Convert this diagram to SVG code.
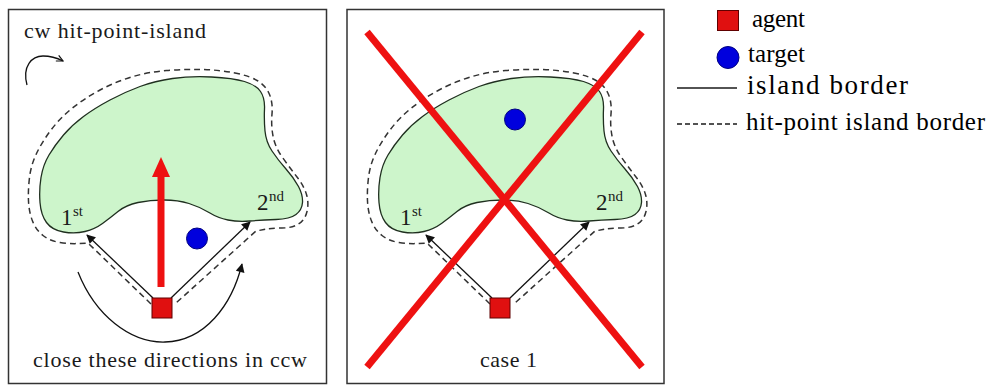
<svg xmlns="http://www.w3.org/2000/svg" xmlns:xlink="http://www.w3.org/1999/xlink" width="988" height="386" viewBox="0 0 988 386">
  <style>
    .frame { fill: #ffffff; stroke: #333333; stroke-width: 1.5; }
    .island { fill: #cdf5cb; stroke: #1f2f1f; stroke-width: 1.3; }
    .hit { fill: none; stroke: #333333; stroke-width: 1.5; stroke-dasharray: 6 4; }
    .agent { fill: #e01010; stroke: #600000; stroke-width: 1; }
    .target { fill: #0000dd; stroke: #000080; stroke-width: 1; }
    .arrow { fill: none; stroke: #111111; stroke-width: 1.3; }
    .red { stroke: #ee1111; stroke-width: 7; fill: none; }
    text { font-family: "Liberation Serif", "Times New Roman", serif; fill: #1a1a1a; }
    .lbl { font-size: 22px; }
    .ord { font-size: 23px; }
    .sup { font-size: 15px; }
    .leg { font-size: 25px; fill: #000000; }
    .leg-wide { font-size: 27px; }
  </style>
  <defs>
    <marker id="head" viewBox="0 0 10 10" refX="9" refY="5" markerWidth="10" markerHeight="9" markerUnits="userSpaceOnUse" orient="auto">
      <path d="M0,0 L10,5 L0,10 Z" fill="#111111"/>
    </marker>
    <marker id="open" viewBox="0 0 10 10" refX="9" refY="5" markerWidth="8" markerHeight="8" markerUnits="userSpaceOnUse" orient="auto">
      <path d="M1,1 L9,5 L1,9" fill="none" stroke="#111111" stroke-width="1.5"/>
    </marker>
    <!-- island outline (solid border) -->
    <path id="island-shape" d="M172.5,78.5 Q190,76 211.5,77 Q233,78 244.5,81.5 Q256,85 260.5,91.5 Q265,98 264.5,109 Q264,120 265,131 Q266,142 272,151 Q278,160 286,169 Q294,178 298.5,186.5 Q303,195 302.5,202.5 Q302,210 296,214.5 Q290,219 276,219.5 Q262,220 250,221 Q238,222 228,220 Q218,218 209,212.5 Q200,207 189,203.5 Q178,200 164,200 Q150,200 138,202.5 Q126,205 118,211.5 Q110,218 102.5,223.5 Q95,229 85,231.5 Q75,234 63.5,232 Q52,230 46.5,222.5 Q41,215 40,202.5 Q39,190 41,177.5 Q43,165 49,155 Q55,145 63.5,135 Q72,125 83.5,116.5 Q95,108 110,100 Q125,92 140,86.5 Q155,81 172.5,78.5 Z"/>
    <!-- hit-point island border (dashed), passing by the agent -->
    <path id="hit-shape" d="M151,304 L88,243 L79,243.5 Q70,244 60,242.5 Q50,241 43,235.5 Q36,230 32.5,221 Q29,212 28.5,201 Q28,190 29.5,177.5 Q31,165 36.5,153.5 Q42,142 51,130 Q60,118 72.5,108 Q85,98 100,90 Q115,82 131.5,77 Q148,72 166.5,70.5 Q185,69 202.5,69.5 Q220,70 235,73 Q250,76 258,81 Q266,86 269.5,94.5 Q273,103 272,114 Q271,125 273,136 Q275,147 282.5,157.5 Q290,168 297,177 Q304,186 306.5,194.5 Q309,203 307,211.5 Q305,220 298.5,224 Q292,228 282,228 Q272,228 264,229.5 L256,231 L176,303"/>
  </defs>

  <!-- left panel: cw hit-point-island -->
  <g id="panel-left">
    <rect class="frame" x="8.5" y="9.5" width="318" height="374"/>
    <text class="lbl" x="24" y="38" textLength="182" lengthAdjust="spacing">cw hit-point-island</text>
    <text class="lbl" x="33" y="367" textLength="274" lengthAdjust="spacing">close these directions in ccw</text>
  </g>
  <g id="island-left">
    <use xlink:href="#island-shape" class="island"/>
    <use xlink:href="#hit-shape" class="hit"/>
    <text class="ord" x="61" y="225">1</text><text class="sup" x="73" y="216">st</text>
    <text class="ord" x="257" y="210">2</text><text class="sup" x="269" y="201">nd</text>
  </g>
  <g id="target-left">
    <circle class="target" cx="197" cy="238.5" r="10.5"/>
  </g>

  <!-- right panel: case 1 -->
  <g id="panel-right">
    <rect class="frame" x="347" y="9.5" width="317" height="374"/>
    <text class="lbl" x="480" y="367" textLength="57" lengthAdjust="spacing">case 1</text>
  </g>
  <g id="island-right" transform="translate(339,0)">
    <use xlink:href="#island-shape" class="island"/>
    <use xlink:href="#hit-shape" class="hit"/>
    <text class="ord" x="61" y="225">1</text><text class="sup" x="73" y="216">st</text>
    <text class="ord" x="257" y="210">2</text><text class="sup" x="269" y="201">nd</text>
  </g>
  <g id="target-right">
    <circle class="target" cx="515" cy="119.5" r="10.5"/>
  </g>

  <!-- connectors -->
  <g id="connectors">
    <!-- cw rotation hint -->
    <path class="arrow" d="M27,85 C22,66 32,56 43,56 C51,56 57,58 63,61" marker-end="url(#open)"/>
    <!-- first and second hit directions, left panel -->
    <line class="arrow" x1="153" y1="298" x2="87" y2="235" marker-end="url(#head)"/>
    <line class="arrow" x1="171" y1="298" x2="250" y2="222" marker-end="url(#head)"/>
    <!-- ccw closing sweep -->
    <path class="arrow" d="M78,272 C95,315 130,343 165,342 C205,341 232,305 242,264" marker-end="url(#head)"/>
    <!-- direction toward the target -->
    <line class="red" x1="161" y1="287" x2="161" y2="175"/>
    <polygon points="152,177 170,177 161,157" fill="#ee1111"/>
    <!-- first and second hit directions, right panel -->
    <line class="arrow" x1="492" y1="298" x2="426" y2="235" marker-end="url(#head)"/>
    <line class="arrow" x1="510" y1="298" x2="589" y2="222" marker-end="url(#head)"/>
    <!-- crossed out -->
    <line class="red" x1="367" y1="32" x2="642" y2="367"/>
    <line class="red" x1="642" y1="32" x2="367" y2="367"/>
  </g>

  <g id="agent-left">
    <rect class="agent" x="152" y="298" width="20" height="20"/>
  </g>
  <g id="agent-right">
    <rect class="agent" x="490" y="298" width="20" height="20"/>
  </g>

  <!-- legend -->
  <g id="legend">
    <rect class="agent" x="717.5" y="10.5" width="21" height="20"/>
    <text class="leg" x="752" y="27" textLength="53" lengthAdjust="spacing">agent</text>
    <circle class="target" cx="728" cy="57.5" r="11"/>
    <text class="leg" x="748" y="62" textLength="57" lengthAdjust="spacing">target</text>
    <line x1="677" y1="88" x2="737" y2="88" stroke="#1a1a1a" stroke-width="1.3"/>
    <text class="leg leg-wide" x="747" y="94" textLength="161" lengthAdjust="spacing">island border</text>
    <line x1="677" y1="124" x2="737" y2="124" stroke="#1a1a1a" stroke-width="1.3" stroke-dasharray="5 3"/>
    <text class="leg" x="746" y="130" textLength="239" lengthAdjust="spacing">hit-point island border</text>
  </g>
</svg>
